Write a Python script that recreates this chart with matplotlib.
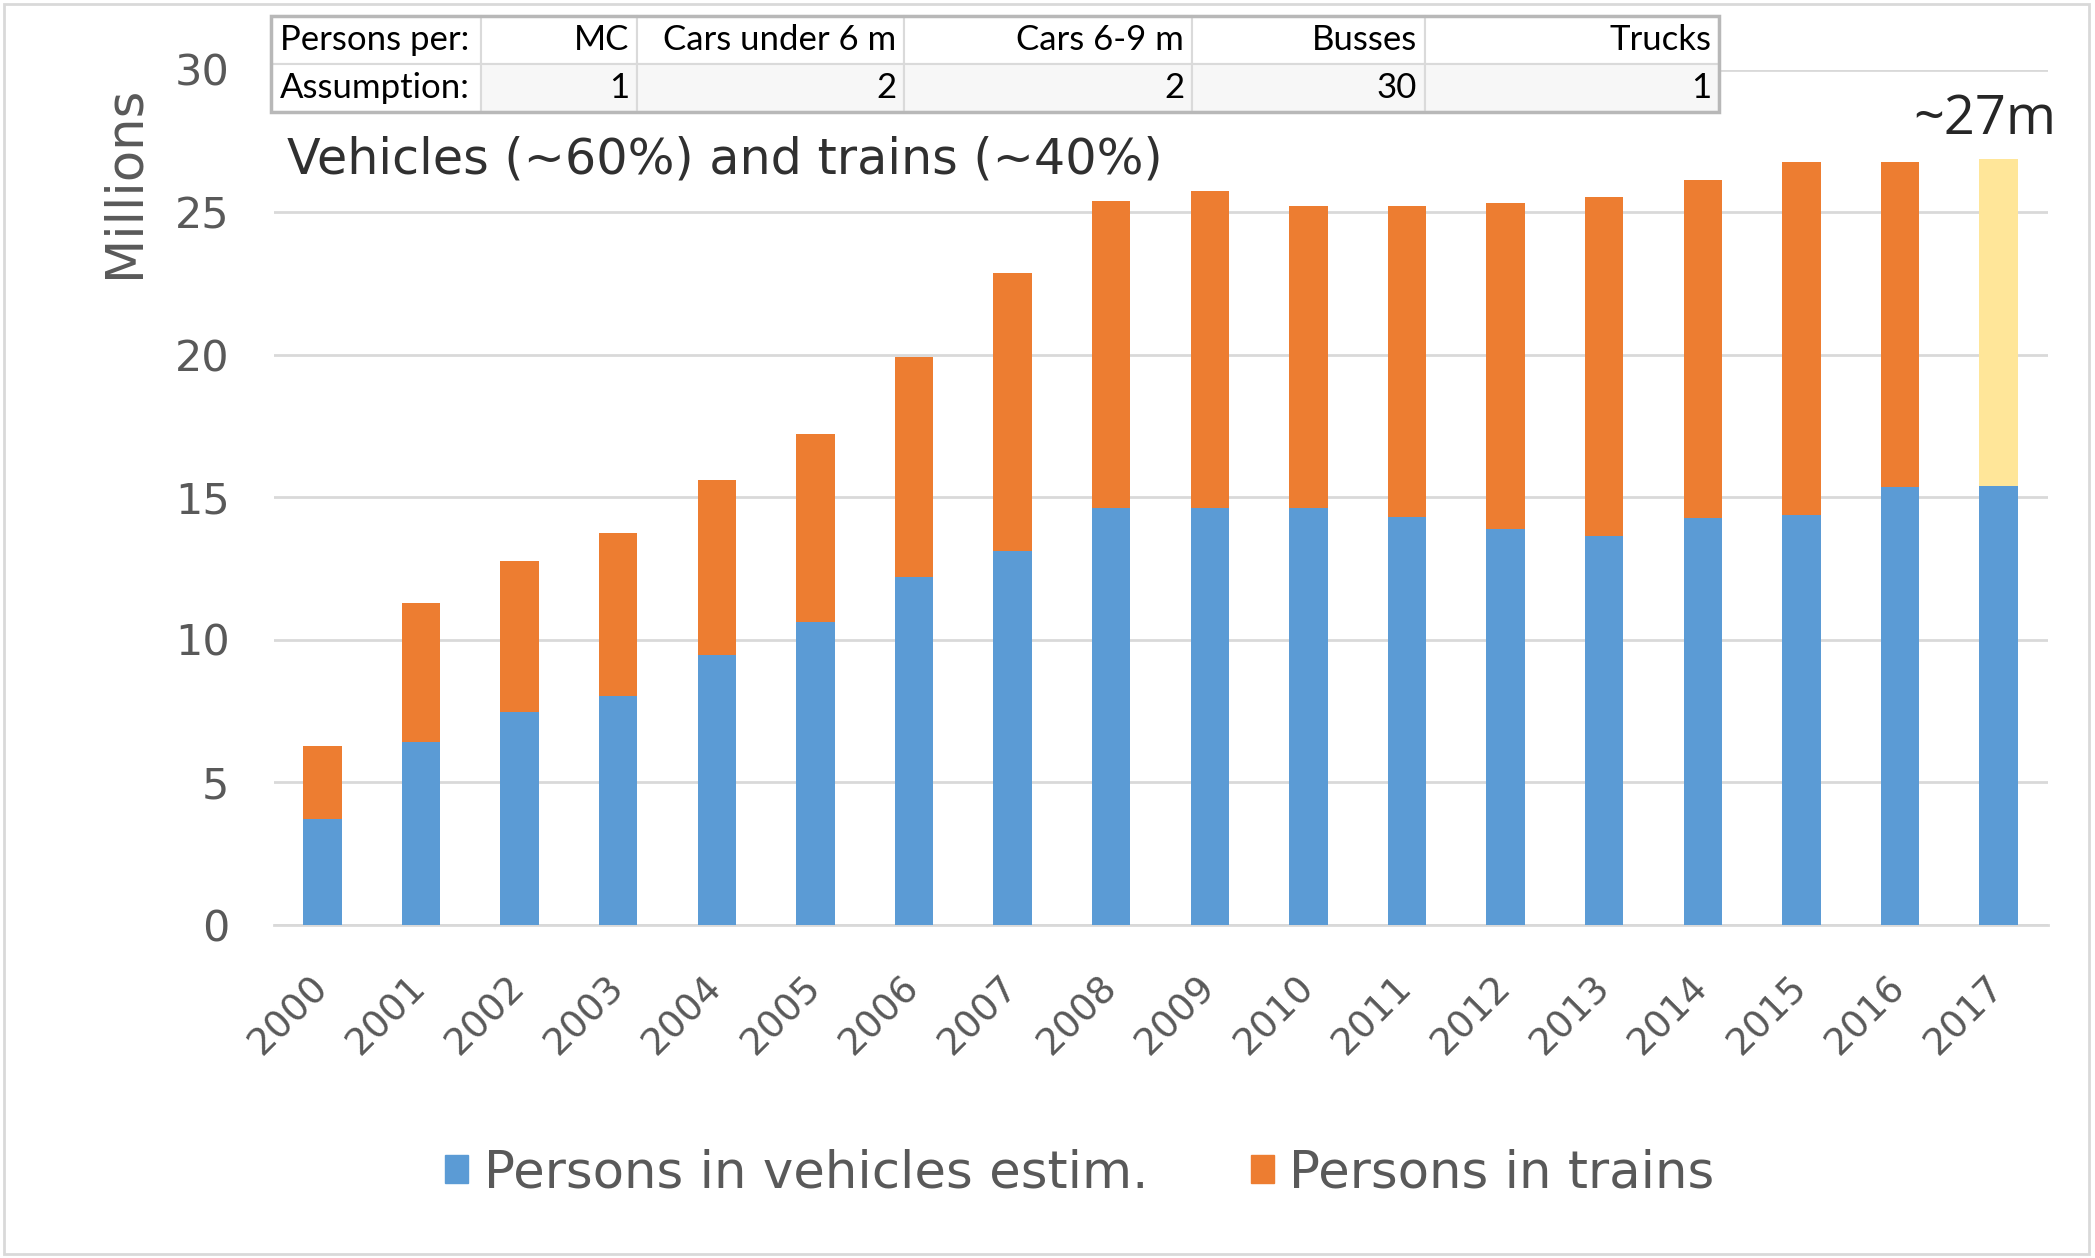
import matplotlib
matplotlib.use("Agg")
import matplotlib.pyplot as plt
import matplotlib.transforms as mtransforms
from matplotlib.patches import Rectangle, Patch
import numpy as np

# data (millions)
years = [str(y) for y in range(2000, 2018)]
vehicles = [3.7, 6.4, 7.44, 8.02, 9.46, 10.63, 12.2, 13.1, 14.6, 14.6, 14.6,
            14.3, 13.87, 13.64, 14.25, 14.36, 15.35, 15.37]
trains = [2.57, 4.87, 5.32, 5.73, 6.14, 6.57, 7.7, 9.75, 10.8, 11.15, 10.6,
          10.9, 11.43, 11.88, 11.88, 12.39, 11.4, 11.48]

table_header = ["Persons per:", "MC", "Cars under 6 m", "Cars 6-9 m", "Busses", "Trucks"]
table_values = ["Assumption:", "1", "2", "2", "30", "1"]

blue = "#5B9BD5"
orange = "#ED7D31"
yellow = "#FFE699"
grey_txt = "#595959"

W, H = 2095, 1258
fig = plt.figure(figsize=(W / 100, H / 100), dpi=100)
fig.patch.set_facecolor("white")

ax = fig.add_axes([274 / W, 1 - 924.5 / H, (2048 - 274) / W, (924.5 - 69.5) / H])
x = np.arange(len(years))
train_colors = [orange] * (len(years) - 1) + [yellow]   # last year is an estimate

ax.bar(x, vehicles, width=0.39, color=blue, zorder=3)
ax.bar(x, trains, bottom=vehicles, width=0.39, color=train_colors, zorder=3)

ax.set_xlim(-0.49, 17.5)
ax.set_ylim(0, 30)
ax.set_yticks([0, 5, 10, 15, 20, 25, 30])
ax.yaxis.grid(True, color="#D9D9D9", lw=2)
ax.set_axisbelow(True)
for s in ["top", "right", "left"]:
    ax.spines[s].set_visible(False)
ax.spines["bottom"].set_color("#D9D9D9")
ax.spines["bottom"].set_linewidth(2)
ax.set_xticks(x)
ax.set_xticklabels(years, rotation=45, ha="right", rotation_mode="anchor",
                   fontsize=27, color=grey_txt, family="DejaVu Sans")
ax.tick_params(axis="x", length=0, pad=32)
shift = mtransforms.ScaledTranslation(-13 / 100, 0, fig.dpi_scale_trans)
for lab in ax.get_xticklabels():
    lab.set_transform(lab.get_transform() + shift)
ax.tick_params(axis="y", length=0, pad=32, labelsize=31, labelcolor=grey_txt)
for lab in ax.get_yticklabels():
    lab.set_family("DejaVu Sans")

fig.text(125 / W, 1 - 182 / H, "Millions", rotation=90, ha="center", va="center",
         fontsize=37, color=grey_txt, family="DejaVu Sans")

fig.text(287 / W, 1 - 160 / H, "Vehicles (~60%) and trains (~40%)", ha="left", va="center",
         fontsize=35.5, color="#303030", family="DejaVu Sans")
fig.text(1985 / W, 1 - 119 / H, "~27m", ha="center", va="center",
         fontsize=39, color="#262626", family="Open Sans")

# small table at the top
cols = [271, 481, 637, 904, 1192, 1425, 1719]
rows = [16, 64, 112]
for r, row_texts in enumerate([table_header, table_values]):
    y0, y1 = rows[r], rows[r + 1]
    for c, txt in enumerate(row_texts):
        x0, x1 = cols[c], cols[c + 1]
        fc = "#F7F7F7" if (r == 1 and c > 0) else "white"
        fig.patches.append(Rectangle((x0 / W, 1 - y1 / H), (x1 - x0) / W, (y1 - y0) / H,
                                     transform=fig.transFigure, facecolor=fc,
                                     edgecolor="#DADADA", lw=1.5, zorder=5))
        if c == 0:
            fig.text((x0 + 9) / W, 1 - (y0 + y1) / 2 / H, txt, ha="left", va="center",
                     fontsize=25, family="Lato", zorder=6)
        else:
            fig.text((x1 - 8) / W, 1 - (y0 + y1) / 2 / H, txt, ha="right", va="center",
                     fontsize=25, family="Lato", zorder=6)
# outer table frame
fig.patches.append(Rectangle((cols[0] / W, 1 - rows[-1] / H), (cols[-1] - cols[0]) / W,
                             (rows[-1] - rows[0]) / H, transform=fig.transFigure,
                             fill=False, edgecolor="#B8B8B8", lw=2.5, zorder=7))

# legend
handles = [Patch(color=blue), Patch(color=orange)]
fig.legend(handles, ["Persons in vehicles estim.", "Persons in trains"], loc="center",
           bbox_to_anchor=(1080 / W, 1 - 1173 / H), ncol=2, frameon=False,
           prop={"family": "DejaVu Sans", "size": 37}, labelcolor=grey_txt,
           handlelength=0.45, handleheight=0.45, handletextpad=0.3, columnspacing=2.0)

# chart border
fig.patches.append(Rectangle((4 / W, 4 / H), (W - 10) / W, (H - 8) / H, transform=fig.transFigure,
                             fill=False, edgecolor="#D9D9D9", lw=2, zorder=1))

fig.savefig("out.png", dpi=100)
